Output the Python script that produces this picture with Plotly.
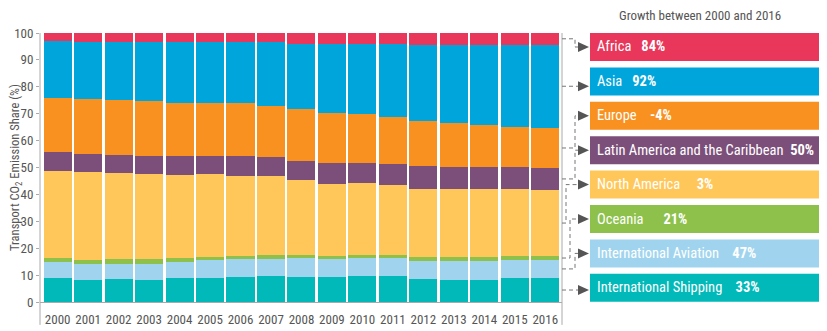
import plotly.graph_objects as go

years = [str(y) for y in range(2000, 2017)]

africa = [3.1, 3.4, 3.4, 3.4, 3.4, 3.4, 3.4, 3.4, 4.0, 4.0, 4.0, 4.0, 4.3, 4.3, 4.3, 4.3, 4.3]
asia = [21.1, 21.0, 21.5, 21.9, 22.5, 22.6, 22.6, 23.9, 24.1, 25.7, 26.1, 27.4, 28.3, 29.2, 29.9, 30.6, 31.0]
europe = [20.0, 20.6, 20.5, 20.4, 19.8, 19.7, 19.7, 18.8, 19.3, 18.5, 18.1, 17.2, 16.7, 16.2, 15.5, 14.8, 14.9]
latin_america = [7.0, 6.8, 6.7, 6.9, 7.2, 6.9, 7.4, 7.2, 7.1, 7.8, 7.6, 8.0, 8.6, 8.2, 8.2, 8.2, 8.1]
north_america = [32.4, 32.7, 31.9, 31.4, 30.7, 30.7, 29.8, 29.2, 27.9, 26.8, 26.7, 25.9, 25.4, 25.4, 25.4, 25.1, 24.7]
oceania = [1.5, 1.3, 1.8, 1.8, 1.4, 1.2, 1.1, 1.5, 1.3, 1.2, 1.3, 1.3, 1.6, 1.6, 1.6, 1.3, 1.3]
aviation = [6.0, 6.2, 5.7, 6.2, 6.2, 6.7, 6.7, 6.3, 7.0, 6.7, 6.5, 6.7, 6.6, 6.8, 6.8, 6.9, 6.8]
shipping = [8.9, 8.0, 8.5, 8.0, 8.8, 8.8, 9.3, 9.7, 9.3, 9.3, 9.7, 9.5, 8.5, 8.3, 8.3, 8.8, 8.9]

# legend (top to bottom)
legend_names = ["Africa", "Asia", "Europe", "Latin America and the Caribbean",
                "North America", "Oceania", "International Aviation", "International Shipping"]
growth_labels = ["84%", "92%", "-4%", "50%", "3%", "21%", "47%", "33%"]
name_gaps = [3, 3, 4, 2, 5, 6, 4, 4]
colors = ["#E8375A", "#00A5DB", "#F8911F", "#7C4F7A", "#FFC75A", "#8DC14B", "#A0D4EE", "#00B9B8"]
series_top_down = [africa, asia, europe, latin_america, north_america, oceania, aviation, shipping]

FONT = "Liberation Sans Narrow, Arial Narrow, Roboto Condensed, DejaVu Sans Condensed, sans-serif"
GREY = "#555555"

fig = go.Figure()
# stack bottom -> top
for name, vals, col in reversed(list(zip(legend_names, series_top_down, colors))):
    fig.add_trace(go.Bar(x=years, y=vals, name=name, marker=dict(color=col, line=dict(width=0)),
                         showlegend=False))

# page geometry (the page body adds an 8px margin at top/left)
OFF = 8
L, T = 40, 33          # plot left/top in page pixels
pw, ph = 522, 269      # plot size
W, H = 827 - OFF, 331 - OFF
ml, mt = L - OFF, T - OFF
mr = W - ml - pw
mb = H - mt - ph

def px_x(px):
    return (px - L) / pw

def px_h(px):
    return px / ph

shapes = []
annotations = []

# frame lines
for xp in (0, 1):
    shapes.append(dict(type="line", xref="paper", yref="paper", x0=xp, x1=xp, y0=-0.085, y1=1,
                       line=dict(color="#aaaaaa", width=1)))

# legend boxes
box_h = px_h(28)
pitch = px_h(34.4)
bx0, bx1 = px_x(590), px_x(822)
box_centers = []
for i, (nm, gr, col) in enumerate(zip(legend_names, growth_labels, colors)):
    top = 1 - i * pitch
    bot = top - box_h
    box_centers.append((top + bot) / 2)
    shapes.append(dict(type="rect", xref="paper", yref="paper", x0=bx0, x1=bx1, y0=bot, y1=top,
                       fillcolor=col, line=dict(width=0), layer="below"))
    annotations.append(dict(xref="paper", yref="paper", x=px_x(595), y=(top + bot) / 2,
                            xanchor="left", yanchor="middle", showarrow=False,
                            text=nm + "\u00a0" * name_gaps[i] + "<b>" + gr + "</b>",
                            font=dict(family=FONT, size=14.5, color="white")))

# connectors from the 2016 segment mid-points
cum = 0
mids = {}
for nm, vals in reversed(list(zip(legend_names, series_top_down))):
    mids[nm] = (cum + vals[-1] / 2) / 100
    cum += vals[-1]

elbow_x = [575, None, 575, 575, 566, 570, 575, None]
dash = dict(color="#777777", width=1, dash="4px,3px")
x_start = px_x(562)
arrow_base = px_x(578)
arrow_tip = px_x(589)
for i, nm in enumerate(legend_names):
    ys = mids[nm]
    ye = box_centers[i]
    if elbow_x[i] is None:
        shapes.append(dict(type="line", xref="paper", yref="paper", x0=x_start, x1=arrow_base,
                           y0=ys, y1=ys, line=dash))
        ya = ys
    else:
        ex = px_x(elbow_x[i])
        path = f"M {x_start},{ys} L {ex},{ys} L {ex},{ye} L {arrow_base},{ye}"
        shapes.append(dict(type="path", xref="paper", yref="paper", path=path, line=dash))
        ya = ye
    hh = px_h(5)
    shapes.append(dict(type="path", xref="paper", yref="paper",
                       path=f"M {arrow_base},{ya - hh} L {arrow_tip},{ya} L {arrow_base},{ya + hh} Z",
                       fillcolor="#555555", line=dict(width=0)))

# legend title
annotations.append(dict(xref="paper", yref="paper", x=px_x(700), y=1 + px_h(18),
                        xanchor="center", yanchor="middle", showarrow=False,
                        text="Growth between 2000 and 2016",
                        font=dict(family=FONT, size=13, color=GREY)))
# y-axis title
annotations.append(dict(xref="paper", yref="paper", x=px_x(15.5), y=0.5,
                        xanchor="center", yanchor="middle", showarrow=False, textangle=-90,
                        text="Transport CO<sub>2</sub> Emission Share (%)",
                        font=dict(family=FONT, size=12.5, color=GREY)))

fig.update_layout(
    width=W, height=H,
    margin=dict(l=ml, r=mr, t=mt, b=mb, pad=0, autoexpand=False),
    barmode="stack", bargap=0.08,
    plot_bgcolor="white", paper_bgcolor="white",
    font=dict(family=FONT, size=13, color=GREY),
    shapes=shapes, annotations=annotations,
    xaxis=dict(type="category", range=[-0.58, 16.55], showgrid=False, showline=True,
               linecolor="#aaaaaa", ticks="", ticklabelstandoff=5, automargin=False,
               tickfont=dict(size=13, color=GREY), fixedrange=True),
    yaxis=dict(range=[0, 100], dtick=10, showgrid=False, zeroline=False,
               showline=False, ticks="outside", ticklen=3, tickcolor="#aaaaaa", automargin=False,
               tickfont=dict(size=13, color=GREY), fixedrange=True),
)

fig.write_html("out.html")
